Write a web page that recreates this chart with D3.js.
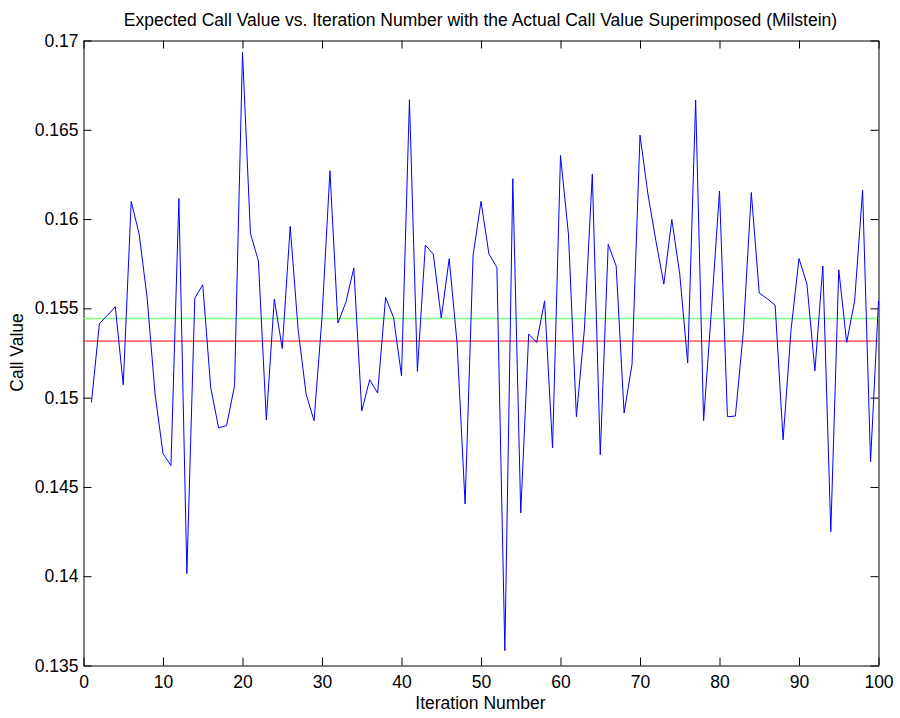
<!DOCTYPE html>
<html>
<head>
<meta charset="utf-8">
<script src="https://cdn.jsdelivr.net/npm/d3@7"></script>
<style>
  body { margin: 0; background: #fff; }
  svg { display: block; font-family: 'Liberation Sans', Arial, Helvetica, sans-serif; }
</style>
</head>
<body>
<svg width="900" height="718"></svg>
<script>
// iteration number 1..100 and the simulated call value at each one
const iterations = d3.range(1, 101);
const callValues = [
  0.14973, 0.15415, 0.15460, 0.15509, 0.15072, 0.16099, 0.15916, 0.15561, 0.15020, 0.14687,
  0.14620, 0.16115, 0.14015, 0.15557, 0.15632, 0.15057, 0.14830, 0.14844, 0.15067, 0.16933,
  0.15919, 0.15766, 0.14875, 0.15552, 0.15275, 0.15959, 0.15380, 0.15020, 0.14871, 0.15449,
  0.16270, 0.15418, 0.15533, 0.15726, 0.14926, 0.15100, 0.15026, 0.15561, 0.15449, 0.15122,
  0.16668, 0.15147, 0.15854, 0.15804, 0.15446, 0.15778, 0.15300, 0.14404, 0.15794, 0.16099,
  0.15804, 0.15729, 0.13583, 0.16226, 0.14354, 0.15356, 0.15309, 0.15542, 0.14718, 0.16356,
  0.15916, 0.14893, 0.15380, 0.16252, 0.14680, 0.15858, 0.15738, 0.14914, 0.15188, 0.16470,
  0.16140, 0.15878, 0.15636, 0.15998, 0.15692, 0.15194, 0.16666, 0.14871, 0.15500, 0.16157,
  0.14893, 0.14897, 0.15370, 0.16149, 0.15586, 0.15554, 0.15518, 0.14764, 0.15380, 0.15779,
  0.15636, 0.15150, 0.15737, 0.14249, 0.15716, 0.15309, 0.15542, 0.16162, 0.14641, 0.15542
];
// horizontal reference lines
const expectedValue = 0.15443;   // green
const actualValue = 0.15317;     // red

const xTicks = d3.range(0, 101, 10);
const yTicks = [0.135, 0.14, 0.145, 0.15, 0.155, 0.16, 0.165, 0.17];

const titleText = 'Expected Call Value vs. Iteration Number with the Actual Call Value Superimposed (Milstein)';

const svg = d3.select('svg');
const width = +svg.attr('width');
const height = +svg.attr('height');

const margin = { top: 40, right: 22, bottom: 53, left: 83 };
const innerWidth = width - margin.left - margin.right;
const innerHeight = height - margin.top - margin.bottom;
const fontSize = 17.5;

const xScale = d3.scaleLinear().domain([0, 100]).range([0, innerWidth]);
const yScale = d3.scaleLinear().domain([0.135, 0.17]).range([innerHeight, 0]);

const g = svg.append('g')
  .attr('transform', `translate(${margin.left + 0.5},${margin.top + 0.5})`);

const tickLen = 8;
const fmt = d => String(+d.toFixed(3));

// bottom + top
g.append('g')
  .attr('class', 'x-axis')
  .attr('transform', `translate(0,${innerHeight})`)
  .call(d3.axisBottom(xScale).tickValues(xTicks).tickSizeInner(-tickLen).tickSizeOuter(0).tickPadding(10).tickFormat(d3.format('d')));
g.append('g')
  .attr('class', 'mirror')
  .call(d3.axisTop(xScale).tickValues(xTicks).tickSizeInner(-tickLen).tickSizeOuter(0));

// left + right
g.append('g')
  .attr('class', 'y-axis')
  .call(d3.axisLeft(yScale).tickValues(yTicks).tickSizeInner(-tickLen).tickSizeOuter(0).tickPadding(5).tickFormat(fmt));
g.append('g')
  .attr('class', 'mirror')
  .attr('transform', `translate(${innerWidth},0)`)
  .call(d3.axisRight(yScale).tickValues(yTicks).tickSizeInner(-tickLen).tickSizeOuter(0));

g.selectAll('.mirror .tick text').remove();
g.selectAll('.tick line').attr('stroke', '#000');
g.selectAll('.domain').attr('stroke', '#000');
g.selectAll('.x-axis, .y-axis').attr('font-size', fontSize).attr('font-family', null);
g.selectAll('.tick text').attr('fill', '#000');

// reference lines
g.append('line')
  .attr('x1', 0).attr('x2', innerWidth)
  .attr('y1', yScale(expectedValue)).attr('y2', yScale(expectedValue))
  .attr('stroke', '#7dff7d').attr('stroke-width', 1.5);
g.append('line')
  .attr('x1', 0).attr('x2', innerWidth)
  .attr('y1', yScale(actualValue)).attr('y2', yScale(actualValue))
  .attr('stroke', '#ff0000').attr('stroke-width', 1);

// simulated values
const line = d3.line()
  .x((d, i) => xScale(iterations[i]))
  .y(d => yScale(d));
g.append('path')
  .datum(callValues)
  .attr('fill', 'none')
  .attr('stroke', '#0000ff')
  .attr('stroke-width', 1)
  .attr('d', line);

// labels
svg.append('text')
  .attr('x', margin.left + innerWidth / 2)
  .attr('y', 26)
  .attr('text-anchor', 'middle')
  .attr('font-size', fontSize)
  .text(titleText);

svg.append('text')
  .attr('x', margin.left + innerWidth / 2)
  .attr('y', 709)
  .attr('text-anchor', 'middle')
  .attr('font-size', fontSize)
  .text('Iteration Number');

svg.append('text')
  .attr('transform', `translate(23,${margin.top + innerHeight / 2}) rotate(-90)`)
  .attr('text-anchor', 'middle')
  .attr('font-size', fontSize)
  .text('Call Value');
</script>
</body>
</html>
